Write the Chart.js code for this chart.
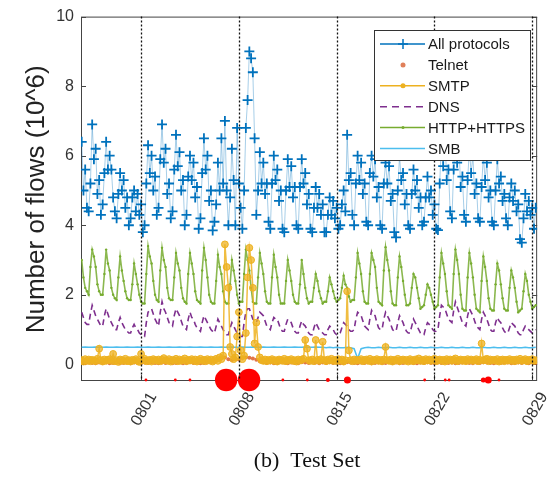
<!DOCTYPE html>
<html>
<head>
<meta charset="utf-8">
<script src="https://cdn.jsdelivr.net/npm/chart.js@4/dist/chart.umd.min.js"></script>
<style>
  html, body { margin: 0; padding: 0; background: #fff; }
  #wrap { width: 558px; height: 478px; }
</style>
</head>
<body>
<div id="wrap"><canvas id="flowChart" width="558" height="478"></canvas></div>
<script>
// Time axis: days relative to 08-01 (0 = 0801)
const tickDays = [0, 7, 14, 21, 28];
const tickLabels = ['0801', '0808', '0815', '0822', '0829'];
const firstSampleDay = -4.25;

// All protocols, 8 samples per day (10^6 flows)
const allProtocols = [
  6.4, 5.0, 5.6, 4.5, 4.4, 5.2, 6.9, 5.9,
  6.2, 4.9, 5.3, 4.3, 4.6, 5.5, 6.4, 5.6,
  6.0, 5.6, 4.8, 4.4, 4.2, 4.9, 5.5, 5.0,
  5.3, 4.5, 4.8, 4.0, 4.2, 4.8, 5.0, 4.4,
  4.9, 4.3, 4.6, 3.8, 4.0, 5.2, 6.3, 5.5,
  6.0, 5.0, 5.4, 4.3, 4.5, 5.9, 6.9, 5.8,
  6.2, 4.9, 5.2, 4.2, 4.4, 5.6, 6.6, 5.7,
  6.1, 5.0, 5.3, 4.0, 4.3, 5.4, 6.0, 5.3,
  5.8, 4.8, 5.1, 3.9, 4.2, 5.5, 6.5, 5.6,
  6.0, 4.7, 5.0, 3.85, 4.1, 4.6, 5.8, 5.0,
  6.5, 5.2, 7.0, 5.0, 4.0, 4.8, 6.2, 5.3,
  4.0, 6.8, 5.2, 4.5, 3.9, 5.0, 6.8, 7.6,
  9.0, 8.8, 8.4, 6.5, 4.3, 5.0, 6.1, 5.2,
  5.8, 4.9, 5.2, 4.1, 3.9, 5.2, 6.0, 5.3,
  5.6, 4.7, 5.0, 3.9, 3.8, 5.0, 5.9, 5.1,
  5.7, 4.8, 5.1, 4.0, 3.9, 5.1, 5.9, 5.2,
  5.5, 4.6, 4.9, 3.9, 3.8, 4.5, 5.1, 4.5,
  4.9, 4.3, 4.6, 3.8, 3.8, 4.3, 4.8, 4.3,
  4.7, 4.2, 4.5, 3.9, 4.0, 4.6, 5.0, 4.4,
  6.6, 5.3, 5.5, 4.3, 4.0, 5.2, 6.0, 5.3,
  5.8, 4.9, 5.2, 4.1, 4.0, 5.5, 6.0, 5.4,
  5.9, 4.8, 5.1, 4.0, 3.9, 5.2, 5.8, 5.2,
  5.7, 4.7, 4.9, 3.8, 3.65, 5.0, 6.0, 5.3,
  5.5, 4.6, 4.9, 4.0, 3.9, 4.9, 5.6, 5.0,
  5.3, 4.5, 4.8, 4.0, 4.1, 4.8, 5.4, 4.8,
  5.0, 4.3, 4.6, 3.9, 3.86, 5.2, 6.4, 5.7,
  6.6, 5.3, 5.6, 4.4, 4.2, 5.6, 6.5, 5.8,
  6.3, 5.1, 5.4, 4.3, 4.1, 5.3, 6.2, 5.5,
  6.0, 4.9, 5.2, 4.2, 4.1, 5.1, 6.0, 5.3,
  5.8, 4.8, 5.0, 4.1, 4.0, 5.0, 5.9, 5.2,
  5.4, 4.7, 4.9, 4.2, 4.0, 4.8, 5.2, 4.7,
  5.0, 4.4, 4.6, 3.6, 3.5, 4.2, 4.9, 4.4,
  4.7, 4.3, 4.5, 3.9, 4.5
];

// SMTP, DNS, HTTP+HTTPS: 8 samples per day
const smtp = [
  0.12, 0.08, 0.15, 0.1, 0.14, 0.09, 0.13, 0.11,
  0.09, 0.16, 0.45, 0.12, 0.08, 0.14, 0.1, 0.13,
  0.15, 0.1, 0.3, 0.09, 0.12, 0.07, 0.14, 0.11,
  0.1, 0.16, 0.09, 0.12, 0.08, 0.13, 0.11, 0.15,
  0.1, 0.07, 0.3, 0.12, 0.16, 0.09, 0.11, 0.13,
  0.08, 0.15, 0.12, 0.1, 0.14, 0.09, 0.13, 0.18,
  0.12, 0.1, 0.15, 0.08, 0.13, 0.11, 0.16, 0.09,
  0.14, 0.1, 0.12, 0.17, 0.09, 0.13, 0.11, 0.15,
  0.1, 0.14, 0.08, 0.12, 0.16, 0.1, 0.13, 0.09,
  0.15, 0.11, 0.14, 0.08, 0.12, 0.16, 0.1, 0.2,
  0.15, 0.25, 3.45, 2.8, 2.2, 0.5, 0.3, 0.15,
  0.2, 0.8, 1.5, 0.4, 0.15, 0.25, 0.9, 2.5,
  3.35, 3.0, 2.2, 0.6, 1.2, 0.5, 0.2, 0.12,
  0.1, 0.14, 0.09, 0.13, 0.11, 0.15, 0.1, 0.12,
  0.08, 0.14, 0.12, 0.1, 0.16, 0.09, 0.13, 0.11,
  0.15, 0.1, 0.12, 0.08, 0.14, 0.11, 0.13, 0.16,
  0.7, 0.45, 0.12, 0.1, 0.14, 0.09, 0.7, 0.13,
  0.1, 0.15, 0.65, 0.12, 0.09, 0.14, 0.11, 0.16,
  0.1, 0.13, 0.09, 0.15, 0.11, 0.14, 0.08, 0.12,
  2.1, 0.4, 0.12, 0.09, 0.14, 0.1, 0.13, 0.11,
  0.15, 0.09, 0.12, 0.14, 0.1, 0.16, 0.08, 0.13,
  0.11, 0.15, 0.1, 0.13, 0.09, 0.14, 0.5, 0.12,
  0.1, 0.14, 0.08, 0.13, 0.11, 0.16, 0.09, 0.12,
  0.14, 0.1, 0.13, 0.08, 0.15, 0.11, 0.09, 0.14,
  0.12, 0.17, 0.1, 0.13, 0.09, 0.15, 0.11, 0.14,
  0.1, 0.13, 0.16, 0.09, 0.12, 0.14, 0.1, 0.13,
  0.08, 0.15, 0.11, 0.14, 0.1, 0.13, 0.17, 0.09,
  0.12, 0.14, 0.1, 0.13, 0.09, 0.15, 0.11, 0.14,
  0.1, 0.12, 0.15, 0.09, 0.13, 0.6, 0.11, 0.14,
  0.16, 0.09, 0.14, 0.11, 0.13, 0.1, 0.15, 0.08,
  0.12, 0.14, 0.09, 0.13, 0.11, 0.15, 0.1, 0.13,
  0.09, 0.14, 0.11, 0.16, 0.1, 0.12, 0.15, 0.09,
  0.13, 0.11, 0.15, 0.1, 0.12
];

const dns = [
  1.5, 1.35, 1.2, 1.15, 1.15, 1.45, 1.7, 1.55,
  1.4, 1.3, 1.2, 1.1, 1.1, 1.4, 1.6, 1.45,
  1.3, 1.2, 1.1, 1.0, 1.0, 1.2, 1.35, 1.2,
  1.1, 1.0, 0.95, 0.9, 0.9, 1.05, 1.15, 1.05,
  1.0, 0.9, 0.85, 0.8, 0.8, 1.2, 1.5, 1.55,
  1.6, 1.45, 1.3, 1.2, 1.1, 1.5, 1.8, 1.6,
  1.5, 1.35, 1.2, 1.15, 1.1, 1.4, 1.6, 1.5,
  1.4, 1.25, 1.1, 1.05, 1.0, 1.3, 1.5, 1.35,
  1.3, 1.15, 1.05, 1.0, 0.95, 1.2, 1.4, 1.3,
  1.2, 1.1, 1.0, 0.95, 0.9, 1.1, 1.3, 1.2,
  1.1, 1.0, 0.9, 0.85, 0.85, 1.05, 1.2, 1.1,
  1.0, 0.9, 0.85, 0.8, 0.8, 1.2, 1.5, 1.6,
  1.6, 1.45, 1.3, 1.25, 1.2, 1.35, 1.5, 1.45,
  1.4, 1.25, 1.1, 1.05, 1.0, 1.2, 1.35, 1.3,
  1.3, 1.15, 1.0, 0.95, 0.95, 1.15, 1.3, 1.25,
  1.2, 1.05, 0.95, 0.9, 0.9, 1.1, 1.25, 1.15,
  1.1, 1.0, 0.9, 0.85, 0.85, 1.05, 1.2, 1.1,
  1.0, 0.95, 0.9, 0.85, 0.85, 1.0, 1.1, 1.05,
  1.0, 0.9, 0.85, 0.85, 0.9, 1.05, 1.2, 1.15,
  1.1, 1.0, 0.95, 0.95, 1.0, 1.3, 1.5, 1.45,
  1.4, 1.25, 1.1, 1.05, 1.0, 1.3, 1.55, 1.45,
  1.4, 1.2, 1.05, 1.0, 1.0, 1.3, 1.5, 1.4,
  1.3, 1.15, 1.0, 0.95, 0.95, 1.2, 1.4, 1.3,
  1.2, 1.05, 0.95, 0.9, 0.9, 1.1, 1.3, 1.2,
  1.1, 1.0, 0.9, 0.85, 0.85, 1.05, 1.2, 1.15,
  1.1, 1.0, 0.95, 0.95, 1.0, 1.4, 1.7, 1.65,
  1.6, 1.45, 1.3, 1.25, 1.2, 1.55, 1.8, 1.65,
  1.5, 1.35, 1.2, 1.15, 1.1, 1.4, 1.6, 1.5,
  1.4, 1.25, 1.1, 1.05, 1.0, 1.3, 1.5, 1.4,
  1.3, 1.15, 1.0, 0.95, 0.95, 1.2, 1.35, 1.25,
  1.2, 1.05, 0.95, 0.9, 0.9, 1.05, 1.2, 1.15,
  1.1, 1.0, 0.9, 0.85, 0.85, 1.0, 1.1, 1.05,
  1.0, 0.95, 0.9, 0.95, 1.0
];

const http = [
  3.0, 2.5, 2.2, 2.1, 2.0, 2.8, 3.3, 3.1,
  2.8, 2.3, 2.1, 2.0, 2.0, 2.6, 3.3, 2.9,
  2.7, 2.2, 2.0, 1.9, 1.85, 2.5, 3.1, 2.7,
  2.4, 2.1, 1.9, 1.85, 1.85, 2.3, 2.9, 2.6,
  2.3, 2.0, 1.8, 1.75, 1.75, 2.6, 3.4, 3.1,
  2.9, 2.4, 2.0, 1.85, 1.8, 2.7, 3.35, 3.0,
  2.8, 2.2, 1.9, 1.85, 1.85, 2.5, 3.2, 2.9,
  2.7, 2.2, 1.9, 1.8, 1.75, 2.6, 3.2, 2.9,
  2.6, 2.1, 1.85, 1.8, 1.75, 2.7, 3.35, 3.0,
  2.5, 2.0, 1.8, 1.75, 1.75, 2.4, 3.15, 2.8,
  2.6, 2.1, 1.8, 1.75, 1.75, 2.3, 3.0, 2.7,
  2.4, 2.0, 1.75, 1.8, 1.8, 2.6, 3.3, 3.0,
  2.7, 2.2, 1.8, 1.75, 1.75, 2.5, 3.2, 2.9,
  2.6, 2.1, 1.8, 1.75, 1.75, 2.5, 3.15, 2.8,
  2.5, 2.0, 1.75, 1.75, 1.75, 2.4, 3.0, 2.7,
  2.4, 2.0, 1.8, 1.75, 1.75, 2.3, 3.0, 2.6,
  2.2, 1.9, 1.75, 1.8, 1.8, 2.2, 2.6, 2.4,
  2.1, 1.9, 1.75, 1.8, 1.8, 2.1, 2.5, 2.3,
  2.1, 1.9, 1.8, 1.85, 1.9, 2.2, 2.55, 2.3,
  2.2, 1.95, 1.8, 1.85, 1.85, 2.5, 3.2, 2.9,
  2.6, 2.1, 1.8, 1.75, 1.75, 2.6, 3.2, 3.0,
  2.8, 2.2, 1.8, 1.75, 1.7, 2.7, 3.37, 3.0,
  2.7, 2.1, 1.75, 1.7, 1.7, 2.5, 3.1, 2.8,
  2.4, 2.0, 1.7, 1.7, 1.75, 2.2, 2.6, 2.5,
  2.2, 1.9, 1.6, 1.65, 1.7, 2.0, 2.3, 2.2,
  2.0, 1.8, 1.6, 1.65, 1.7, 2.5, 3.2, 2.9,
  2.6, 2.1, 1.7, 1.65, 1.6, 2.6, 3.3, 3.0,
  2.6, 2.0, 1.6, 1.55, 1.55, 2.5, 3.2, 2.9,
  2.5, 2.0, 1.6, 1.55, 1.5, 2.4, 3.1, 2.8,
  2.4, 1.9, 1.6, 1.55, 1.55, 2.3, 2.9, 2.7,
  2.3, 1.9, 1.6, 1.55, 1.55, 2.2, 2.7, 2.5,
  2.2, 1.8, 1.5, 1.55, 1.6, 2.1, 2.6, 2.4,
  2.0, 1.8, 1.6, 1.65, 1.7
];

// Telnet and SMB: 4 samples per day
const telnet = [
  0.04, 0.03, 0.05, 0.04, 0.03, 0.05, 0.04, 0.06, 0.03, 0.04, 0.05, 0.03,
  0.04, 0.06, 0.03, 0.05, 0.04, 0.03, 0.05, 0.04, 0.06, 0.04, 0.03, 0.05,
  0.04, 0.05, 0.03, 0.04, 0.05, 0.03, 0.04, 0.06, 0.04, 0.05, 0.03, 0.04,
  0.06, 0.05, 0.08, 0.12, 0.18, 0.2, 0.15, 0.12, 0.16, 0.14, 0.18, 0.2,
  0.19, 0.17, 0.13, 0.09, 0.06, 0.04, 0.05, 0.03, 0.04, 0.06, 0.05, 0.03,
  0.05, 0.04, 0.03, 0.06, 0.05, 0.04, 0.06, 0.05, 0.03, 0.05, 0.04, 0.06,
  0.04, 0.05, 0.03, 0.04, 0.06, 0.05, 0.04, 0.03, 0.05, 0.04, 0.06, 0.03,
  0.04, 0.05, 0.03, 0.04, 0.06, 0.04, 0.05, 0.03, 0.04, 0.06, 0.05, 0.04,
  0.03, 0.05, 0.04, 0.06, 0.04, 0.03, 0.05, 0.04, 0.06, 0.04, 0.05, 0.03,
  0.04, 0.05, 0.06, 0.04, 0.03, 0.05, 0.04, 0.06, 0.05, 0.04, 0.03, 0.05,
  0.04, 0.06, 0.05, 0.03, 0.04, 0.05, 0.04, 0.06, 0.03, 0.05, 0.04
];

const smb = [
  0.49, 0.5, 0.49, 0.49, 0.5, 0.49, 0.49, 0.5, 0.49, 0.49, 0.5, 0.49,
  0.49, 0.5, 0.49, 0.49, 0.5, 0.49, 0.49, 0.5, 0.49, 0.49, 0.5, 0.49,
  0.49, 0.5, 0.49, 0.49, 0.5, 0.49, 0.49, 0.5, 0.49, 0.49, 0.5, 0.49,
  0.49, 0.5, 0.49, 0.49, 0.5, 0.49, 0.49, 0.5, 0.49, 0.49, 0.5, 0.49,
  0.49, 0.5, 0.49, 0.49, 0.5, 0.49, 0.49, 0.5, 0.49, 0.49, 0.5, 0.49,
  0.49, 0.5, 0.49, 0.49, 0.5, 0.49, 0.49, 0.5, 0.49, 0.49, 0.48, 0.49,
  0.48, 0.49, 0.48, 0.48, 0.49, 0.48, 0.45, 0.17, 0.45, 0.48, 0.49, 0.48,
  0.48, 0.49, 0.48, 0.48, 0.49, 0.48, 0.48, 0.49, 0.48, 0.48, 0.49, 0.48,
  0.48, 0.49, 0.48, 0.48, 0.49, 0.48, 0.48, 0.49, 0.48, 0.48, 0.49, 0.48,
  0.48, 0.49, 0.48, 0.48, 0.49, 0.48, 0.48, 0.49, 0.48, 0.48, 0.49, 0.48,
  0.48, 0.49, 0.48, 0.48, 0.49, 0.48, 0.48, 0.49, 0.48, 0.48, 0.49
];

// Flagged hours (red marks on the axis), day and score
const anomalyDays = [0.35, 2.45, 3.5, 6.09, 7.73, 10.15, 11.9, 13.37, 14.77, 20.3, 21.77, 22.05, 24.5, 24.85, 25.62];
const anomalyScore = [1, 1, 1, 8, 8, 1, 1, 1.4, 2.5, 1, 1, 1, 1.8, 2.5, 1];
const anomalyLevel = -0.45;

const FONT = "'Liberation Sans', Arial, Helvetica, sans-serif";

const toPoints = (arr, perDay) => arr.map((v, i) => ({ x: firstSampleDay + i / perDay, y: v }));

const legendItems = [
  { label: 'All protocols', color: '#0072BD', line: true, marker: 'cross' },
  { label: 'Telnet', color: '#E0805A', line: false, marker: 'dot' },
  { label: 'SMTP', color: '#EDB120', line: true, marker: 'circle' },
  { label: 'DNS', color: '#7E2F8E', line: true, dash: [7, 5] },
  { label: 'HTTP+HTTPS', color: '#77AC30', line: true, marker: 'small' },
  { label: 'SMB', color: '#4DBEEE', line: true }
];

const decor = {
  id: 'decor',
  beforeDatasetsDraw(chart) {
    const { ctx, chartArea: a, scales: { x, y } } = chart;
    ctx.save();
    ctx.strokeStyle = '#444';
    ctx.lineWidth = 1;
    ctx.strokeRect(a.left + 0.5, a.top + 0.5, a.right - a.left - 1, a.bottom - a.top);
    ctx.beginPath();
    [0, 2, 4, 6, 8, 10].forEach(v => {
      const py = Math.round(y.getPixelForValue(v)) + 0.5;
      ctx.moveTo(a.left, py); ctx.lineTo(a.left + 5, py);
      ctx.moveTo(a.right - 5, py); ctx.lineTo(a.right, py);
    });
    tickDays.forEach(d => {
      const px = Math.round(x.getPixelForValue(d)) + 0.5;
      ctx.moveTo(px, a.bottom); ctx.lineTo(px, a.bottom - 5);
    });
    ctx.stroke();
    ctx.restore();
  },
  afterDatasetsDraw(chart) {
    const { ctx, chartArea: a, scales: { x } } = chart;
    ctx.save();
    ctx.strokeStyle = '#111';
    ctx.lineWidth = 1.3;
    ctx.setLineDash([2, 2]);
    ctx.beginPath();
    tickDays.forEach(d => {
      const px = Math.round(x.getPixelForValue(d)) + 0.5;
      ctx.moveTo(px, a.top); ctx.lineTo(px, a.bottom);
    });
    ctx.stroke();
    ctx.restore();
  },
  afterDraw(chart) {
    const { ctx, chartArea: a } = chart;
    ctx.save();
    // y axis title
    ctx.fillStyle = '#222';
    ctx.font = '26px ' + FONT;
    ctx.textAlign = 'center';
    ctx.textBaseline = 'middle';
    ctx.translate(37, (a.top + a.bottom) / 2 + 1);
    ctx.rotate(-Math.PI / 2);
    ctx.fillText('Number of flows (10^6)', 0, 0);
    ctx.restore();

    // caption
    ctx.save();
    ctx.fillStyle = '#111';
    ctx.font = "22px 'Liberation Serif', 'Times New Roman', serif";
    ctx.textAlign = 'center';
    ctx.textBaseline = 'middle';
    ctx.fillText('(b)  Test Set', 307, 461);
    ctx.restore();

    // legend box
    ctx.save();
    const lx = 374, ly = 30, lw = 156, lh = 130;
    ctx.fillStyle = '#fff';
    ctx.fillRect(lx, ly, lw, lh);
    ctx.strokeStyle = '#333';
    ctx.lineWidth = 1;
    ctx.strokeRect(lx + 0.5, ly + 0.5, lw, lh);
    ctx.font = '15px ' + FONT;
    ctx.textBaseline = 'middle';
    legendItems.forEach((it, i) => {
      const cy = 44 + i * 20.9;
      ctx.strokeStyle = it.color;
      ctx.fillStyle = it.color;
      ctx.lineWidth = 1.5;
      if (it.line) {
        ctx.setLineDash(it.dash || []);
        ctx.beginPath();
        ctx.moveTo(380, cy); ctx.lineTo(425, cy);
        ctx.stroke();
        ctx.setLineDash([]);
      }
      const mx = 403;
      if (it.marker === 'cross') {
        ctx.beginPath();
        ctx.moveTo(mx, cy - 5); ctx.lineTo(mx, cy + 5);
        ctx.moveTo(mx - 5, cy); ctx.lineTo(mx + 5, cy);
        ctx.stroke();
      } else if (it.marker === 'dot' || it.marker === 'circle') {
        ctx.beginPath(); ctx.arc(mx, cy, 2.5, 0, Math.PI * 2); ctx.fill();
      } else if (it.marker === 'small') {
        ctx.beginPath(); ctx.arc(mx, cy, 1.5, 0, Math.PI * 2); ctx.fill();
      }
      ctx.fillStyle = '#1a1a1a';
      ctx.fillText(it.label, 428, cy + 1);
    });
    ctx.restore();
  }
};

new Chart(document.getElementById('flowChart'), {
  type: 'line',
  data: {
    datasets: [
      {
        label: 'flagged',
        data: anomalyDays.map(d => ({ x: d, y: anomalyLevel })),
        showLine: false,
        pointRadius: anomalyScore.map(s => 1.4 * s),
        pointBackgroundColor: '#ff0000',
        pointBorderWidth: 0,
        clip: false,
        order: 0
      },
      {
        label: 'SMTP',
        data: toPoints(smtp, 8),
        borderColor: 'rgba(237,177,32,0.85)',
        borderWidth: 1.5,
        pointRadius: 3.4,
        pointBackgroundColor: 'rgba(237,177,32,0.75)',
        pointBorderColor: '#EDB120',
        pointBorderWidth: 1,
        order: 1
      },
      {
        label: 'Telnet',
        data: toPoints(telnet, 4),
        showLine: false,
        pointRadius: 2,
        pointBackgroundColor: 'rgba(217,83,25,0.8)',
        pointBorderWidth: 0,
        order: 2
      },
      {
        label: 'SMB',
        data: toPoints(smb, 4),
        borderColor: '#4DBEEE',
        borderWidth: 1.5,
        pointRadius: 0,
        order: 3
      },
      {
        label: 'HTTP+HTTPS',
        data: toPoints(http, 8),
        borderColor: 'rgba(119,172,48,0.85)',
        borderWidth: 1.6,
        pointRadius: 1.2,
        pointBackgroundColor: '#77AC30',
        pointBorderWidth: 0,
        order: 4
      },
      {
        label: 'DNS',
        data: toPoints(dns, 8),
        borderColor: '#7E2F8E',
        borderWidth: 1.6,
        borderDash: [6, 4],
        pointRadius: 0,
        order: 5
      },
      {
        label: 'All protocols',
        data: toPoints(allProtocols, 8),
        borderColor: 'rgba(0,114,189,0.35)',
        borderWidth: 1,
        pointStyle: 'cross',
        pointRadius: 5,
        pointBorderColor: '#0072BD',
        pointBorderWidth: 1.8,
        order: 6
      }
    ]
  },
  options: {
    responsive: false,
    animation: false,
    events: [],
    layout: { padding: { left: 0, right: 11, top: 16, bottom: 0 } },
    plugins: { legend: { display: false }, tooltip: { enabled: false } },
    scales: {
      x: {
        type: 'linear',
        min: -4.3,
        max: 28.35,
        afterBuildTicks: s => { s.ticks = tickDays.map(v => ({ value: v })); },
        afterFit: s => { s.height = 98; },
        grid: { display: false, drawTicks: false },
        border: { display: false },
        ticks: {
          autoSkip: false,
          minRotation: 60,
          maxRotation: 60,
          padding: 9,
          labelOffset: 12,
          color: '#333',
          font: { family: FONT, size: 16 },
          callback: v => tickLabels[tickDays.indexOf(v)]
        }
      },
      y: {
        min: -0.45,
        max: 10,
        afterBuildTicks: s => { s.ticks = [0, 2, 4, 6, 8, 10].map(v => ({ value: v })); },
        afterFit: s => { s.width = 81; },
        grid: { display: false, drawTicks: false },
        border: { display: false },
        ticks: {
          padding: 7,
          color: '#333',
          font: { family: FONT, size: 16 }
        }
      }
    }
  },
  plugins: [decor]
});
</script>
</body>
</html>
